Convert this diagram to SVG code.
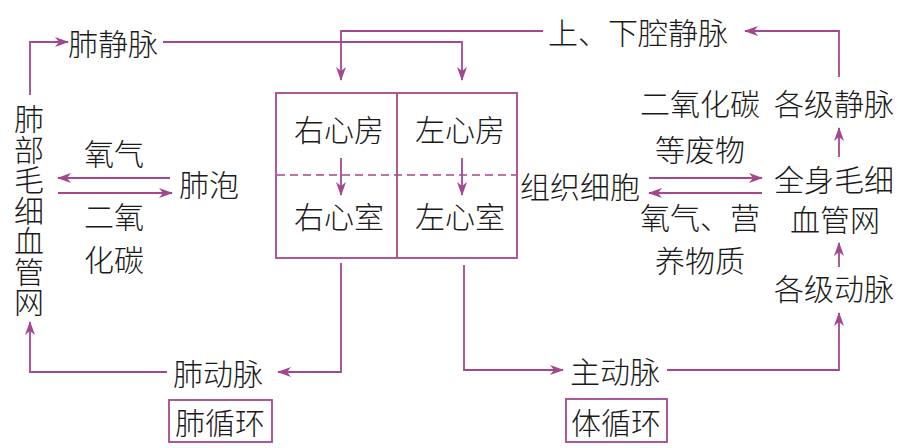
<svg xmlns="http://www.w3.org/2000/svg" width="910" height="448" viewBox="0 0 910 448">
<style>
text{font-family:"Noto Sans CJK SC","Noto Sans CJK JP",sans-serif;font-size:30px;font-weight:300;fill:#1a1a1a;text-anchor:middle;dominant-baseline:central}
.v{writing-mode:vertical-rl;letter-spacing:0.5px}
.c{fill:none;stroke:#a3488f;stroke-width:1.8}
.b{fill:none;stroke:#a3488f;stroke-width:1.8}
.d{stroke:#a3488f;stroke-width:1.6;stroke-dasharray:8 5}
</style>
<defs>
<marker id="a" viewBox="0 0 14 10" refX="13" refY="5" markerWidth="14" markerHeight="10" markerUnits="userSpaceOnUse" orient="auto">
<path d="M0,0 L14,5 L0,10 L4,5 Z" fill="#a3488f"/>
</marker>
</defs>
<rect width="910" height="448" fill="#ffffff"/>
<g id="heart">
<rect class="b" x="276" y="93" width="241" height="165"/>
<line class="b" x1="397" y1="93" x2="397" y2="258"/>
<line class="d" x1="277" y1="175" x2="516" y2="175"/>
<text x="339" y="128">右心房</text>
<text x="460" y="128">左心房</text>
<text x="339" y="215">右心室</text>
<text x="460" y="215">左心室</text>
</g>
<g id="feijingmai"><text x="113" y="42">肺静脉</text></g>
<g id="qiangjingmai"><text x="638" y="31">上、下腔静脉</text></g>
<g id="feibu"><text class="v" x="29" y="210.5">肺部毛细血管网</text></g>
<g id="feipao"><text x="209" y="183">肺泡</text></g>
<g id="feidongmai"><text x="218" y="372">肺动脉</text></g>
<g id="feixunhuan">
<rect class="b" x="169" y="400" width="103" height="42"/>
<text x="220" y="421">肺循环</text>
</g>
<g id="zhudongmai"><text x="615" y="370">主动脉</text></g>
<g id="tixunhuan">
<rect class="b" x="566" y="399" width="101" height="43"/>
<text x="616" y="421">体循环</text>
</g>
<g id="zuzhi"><text x="580" y="185">组织细胞</text></g>
<g id="gejijingmai"><text x="834" y="102">各级静脉</text></g>
<g id="quanshen">
<text x="834" y="178">全身毛细<tspan x="835" dy="40">血管网</tspan></text>
</g>
<g id="gejidongmai"><text x="834" y="287">各级动脉</text></g>
<g id="labels">
<text x="114" y="152">氧气</text>
<text x="114" y="215">二氧<tspan x="114" dy="43">化碳</tspan></text>
<text x="700" y="102">二氧化碳<tspan x="700" dy="46">等废物</tspan></text>
<text x="700" y="216">氧气、营<tspan x="700" dy="43">养物质</tspan></text>
</g>
<g id="connectors">
<path class="c" d="M30,95 V42 H68" marker-end="url(#a)"/>
<path class="c" d="M163,42 H462 V80" marker-end="url(#a)"/>
<path class="c" d="M543,31 H341 V80" marker-end="url(#a)"/>
<path class="c" d="M839,77 V31 H745" marker-end="url(#a)"/>
<path class="c" d="M839,157 V128" marker-end="url(#a)"/>
<path class="c" d="M839,267 V243" marker-end="url(#a)"/>
<path class="c" d="M667,370 H839 V313" marker-end="url(#a)"/>
<path class="c" d="M464,265 V370 H563" marker-end="url(#a)"/>
<path class="c" d="M341,263 V372 H278" marker-end="url(#a)"/>
<path class="c" d="M167,372 H30 V322" marker-end="url(#a)"/>
<path class="c" d="M170,178 H58" marker-end="url(#a)"/>
<path class="c" d="M58,193 H172" marker-end="url(#a)"/>
<path class="c" d="M649,178 H762" marker-end="url(#a)"/>
<path class="c" d="M762,193 H649" marker-end="url(#a)"/>
<path class="c" d="M341,158 V195" marker-end="url(#a)"/>
<path class="c" d="M462,158 V195" marker-end="url(#a)"/>
</g>
</svg>
